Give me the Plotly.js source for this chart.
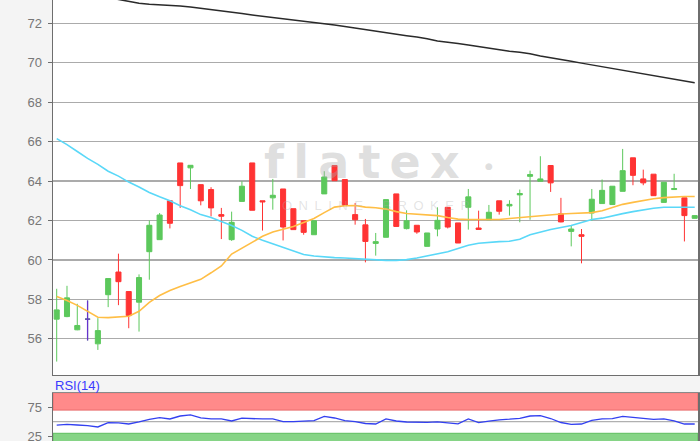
<!DOCTYPE html>
<html><head><meta charset="utf-8">
<script src="https://cdn.plot.ly/plotly-3.0.1.min.js"></script>
<style>html,body{margin:0;padding:0;background:#f4f4f4;overflow:hidden}</style>
</head><body><div id="chart" style="width:700px;height:441px"></div>
<script>
// session index (no date labels are shown in the reference)
const sessions = [0,1,2,3,4,5,6,7,8,9,10,11,12,13,14,15,16,17,18,19,20,21,22,23,24,25,26,27,28,29,30,31,32,33,34,35,36,37,38,39,40,41,42,43,44,45,46,47,48,49,50,51,52,53,54,55,56,57,58,59,60,61,62];

const openP  = [57.00,57.13,56.46,57.00,55.75,58.24,59.39,58.40,57.86,60.42,61.03,63.00,64.92,64.67,63.82,63.57,62.30,61.03,62.97,64.92,63.00,63.15,63.60,62.60,61.99,61.28,63.35,64.79,64.08,62.30,61.78,60.84,61.15,63.35,61.59,61.76,60.69,61.57,62.67,61.88,62.67,61.62,62.04,63.00,62.74,63.30,64.24,63.99,64.79,62.34,61.45,61.28,62.38,62.86,62.81,63.48,65.18,64.11,64.35,62.92,63.57,63.15,62.11];
const highP  = [58.54,58.69,57.78,57.95,57.05,59.06,60.32,58.40,59.27,62.00,62.38,63.00,64.92,64.80,63.82,63.69,62.64,62.45,63.99,64.92,63.00,64.11,63.60,62.60,61.99,61.99,64.50,64.79,64.08,62.89,62.08,61.37,63.06,63.35,62.52,61.76,61.37,62.67,62.67,61.88,63.60,62.50,62.79,63.00,63.03,63.57,64.53,65.26,64.79,63.15,61.74,61.57,63.60,64.08,63.74,65.63,65.18,64.58,64.35,63.94,64.37,63.15,62.25];
const lowP   = [54.85,57.10,56.44,55.92,55.44,57.61,57.71,56.54,56.37,59.00,61.03,61.60,62.64,63.60,62.77,62.21,61.06,60.97,62.97,62.52,61.49,62.55,60.99,61.54,61.28,61.28,63.35,64.02,62.76,61.79,59.88,60.22,61.15,61.70,61.55,61.33,60.69,61.20,61.60,60.86,61.54,61.55,62.04,62.30,62.25,61.91,62.04,63.99,63.45,61.91,60.69,59.83,61.98,62.86,62.81,63.48,63.79,63.79,63.26,62.92,63.57,60.94,62.11];
const closeP = [57.47,58.08,56.68,57.00,56.42,59.06,58.90,57.18,59.11,61.76,62.28,61.86,63.77,64.80,63.00,62.64,62.22,61.91,63.74,62.52,62.95,63.28,61.67,61.54,61.40,61.99,64.21,64.02,62.76,62.04,60.94,60.93,63.06,61.70,61.99,61.42,61.37,62.01,61.67,60.86,63.20,61.55,62.42,62.47,62.82,63.37,64.33,64.11,63.91,61.93,61.57,61.20,63.08,63.53,63.74,64.53,64.29,63.91,63.26,63.94,63.62,62.25,62.25];
const dojiIdx = [3];

const maCyan   = [66.15,65.85,65.50,65.15,64.85,64.50,64.25,63.95,63.70,63.42,63.20,63.00,62.75,62.55,62.30,62.15,61.95,61.75,61.50,61.20,61.00,60.82,60.60,60.42,60.28,60.20,60.15,60.12,60.10,60.07,60.03,60.00,59.98,59.98,60.02,60.10,60.20,60.30,60.42,60.58,60.75,60.85,60.90,60.93,60.95,61.05,61.28,61.42,61.55,61.65,61.75,61.90,62.05,62.12,62.25,62.35,62.45,62.55,62.62,62.67,62.67,62.67,62.67];
const maOrange = [58.15,57.95,57.70,57.40,57.10,57.08,57.10,57.15,57.40,57.85,58.20,58.45,58.65,58.85,59.02,59.35,59.70,60.30,60.60,60.90,61.20,61.42,61.55,61.70,61.90,62.10,62.40,62.68,62.75,62.76,62.68,62.65,62.58,62.45,62.36,62.33,62.30,62.25,62.15,62.07,62.05,62.05,62.05,62.05,62.10,62.15,62.21,62.25,62.30,62.33,62.36,62.38,62.40,62.50,62.65,62.82,62.92,63.02,63.10,63.16,63.20,63.22,63.22];
const maBlack  = [null,null,null,null,null,73.30,73.20,73.10,73.02,72.97,72.94,72.93,72.88,72.82,72.76,72.69,72.62,72.56,72.49,72.42,72.36,72.30,72.24,72.17,72.10,72.03,71.97,71.91,71.84,71.76,71.68,71.58,71.50,71.43,71.37,71.30,71.22,71.10,71.02,70.97,70.90,70.82,70.72,70.64,70.58,70.53,70.46,70.34,70.24,70.15,70.07,69.98,69.89,69.81,69.70,69.60,69.51,69.43,69.36,69.26,69.16,69.08,68.99];

const rsi14 = [44.0,45.5,44.3,43.3,40.9,48.3,48.1,46.0,49.5,54.1,56.9,54.7,59.8,61.6,56.7,54.7,54.7,51.2,56.0,54.7,54.7,54.7,50.0,50.0,50.3,51.9,59.0,56.4,52.0,50.3,46.9,46.0,54.7,51.2,49.5,49.0,49.0,49.8,48.6,46.4,54.7,48.3,50.9,53.3,54.3,55.9,59.8,60.3,55.5,48.6,45.5,46.0,52.1,54.7,55.2,59.1,57.4,55.5,54.1,54.7,51.6,46.0,46.0];

const priceTicks = [56,58,60,62,64,66,68,70,72];
const rsiTicks = [25,75];
const rsiZones = {over:[70,100], under:[0,30]};

const GREEN = '#5cc85c', RED = '#ff3333', PURPLE = '#6633cc';
const tickFont = {family:'Liberation Sans, Arial, sans-serif', size:13, color:'#777777'};

const traces = [
  {type:'candlestick', x:sessions, open:openP, high:highP, low:lowP, close:closeP,
   xaxis:'x', yaxis:'y',
   increasing:{line:{color:GREEN,width:1}, fillcolor:GREEN},
   decreasing:{line:{color:RED,width:1}, fillcolor:RED},
   whiskerwidth:0, hoverinfo:'skip'},
  {type:'candlestick', x:dojiIdx.map(i=>sessions[i]), open:dojiIdx.map(i=>openP[i]),
   high:dojiIdx.map(i=>highP[i]), low:dojiIdx.map(i=>lowP[i]), close:dojiIdx.map(i=>closeP[i]),
   xaxis:'x', yaxis:'y',
   increasing:{line:{color:PURPLE,width:1.3}, fillcolor:PURPLE},
   decreasing:{line:{color:PURPLE,width:1.3}, fillcolor:PURPLE}, hoverinfo:'skip'},
  {type:'scatter', mode:'lines', x:sessions, y:maCyan, line:{color:'#5ad8f8',width:1.6}, xaxis:'x', yaxis:'y'},
  {type:'scatter', mode:'lines', x:sessions, y:maOrange, line:{color:'#ffbe45',width:1.6}, xaxis:'x', yaxis:'y'},
  {type:'scatter', mode:'lines', x:sessions, y:maBlack, line:{color:'#2a2a2a',width:1.5}, xaxis:'x', yaxis:'y'},
  {type:'scatter', mode:'lines', x:sessions, y:rsi14, line:{color:'#3340f0',width:1.3}, xaxis:'x2', yaxis:'y2'}
];

const xr = [-0.36, 62.32];
const layout = {
  width:700, height:441,
  margin:{l:53, r:2, t:0, b:0, pad:0},
  paper_bgcolor:'#f4f4f4', plot_bgcolor:'#ffffff',
  showlegend:false,
  xaxis:{domain:[0,1], range:xr, anchor:'y', showgrid:false, showticklabels:false, ticks:'',
         zeroline:false, showline:true, linecolor:'#6e6e6e', linewidth:1.5, rangeslider:{visible:false}},
  yaxis:{domain:[0.1497,1], range:[54.17,73.18], anchor:'x', tickvals:priceTicks,
         gridcolor:'#ababab', gridwidth:1.2, zeroline:false,
         showline:true, mirror:true, linecolor:'#6e6e6e', linewidth:1.5,
         ticks:'outside', ticklen:4, tickcolor:'#6e6e6e', tickfont:tickFont, ticklabelstandoff:3,
         ticklabeloverflow:'allow'},
  xaxis2:{domain:[0,1], range:xr, anchor:'y2', showgrid:false, showticklabels:false, ticks:'',
          zeroline:false, showline:true, mirror:true, linecolor:'#8a8a8a', linewidth:1.2},
  yaxis2:{domain:[0,0.1095], range:[16.7,100], anchor:'x2', tickvals:rsiTicks,
          showgrid:false, zeroline:false, showline:true, mirror:true, linecolor:'#6e6e6e', linewidth:1.5,
          ticks:'outside', ticklen:4, tickcolor:'#6e6e6e', tickfont:tickFont, ticklabelstandoff:3,
          ticklabeloverflow:'allow'},
  shapes:[
    {type:'rect', xref:'x2 domain', yref:'y2', x0:0, x1:1, y0:rsiZones.over[0], y1:rsiZones.over[1],
     fillcolor:'#ff8a8a', line:{color:'#e86a6a', width:1}, layer:'below'},
    {type:'rect', xref:'x2 domain', yref:'y2', x0:0, x1:1, y0:rsiZones.under[0], y1:rsiZones.under[1],
     fillcolor:'#86d486', line:{color:'#5fbf5f', width:1}, layer:'below'},
    {type:'line', xref:'x2 domain', yref:'y2', x0:0, x1:1, y0:50, y1:50, line:{color:'#b0b0b0', width:1.3}, layer:'below'}
  ],
  annotations:[
    {xref:'paper', yref:'paper', x:0, y:(441-385.5)/441, xanchor:'left', yanchor:'middle', showarrow:false,
     text:'RSI(14)', font:{family:'Liberation Sans, Arial, sans-serif', size:13, color:'#3a3aff'}},
    {xref:'paper', yref:'paper', x:(262-53)/645, y:(441-162)/441, xanchor:'left', yanchor:'middle', showarrow:false,
     text:'f\u2009l\u2009a\u2009t\u2009e\u2009x', font:{family:'DejaVu Sans, sans-serif', size:46, weight:700, color:'rgba(170,170,170,0.38)'}},
    {xref:'paper', yref:'paper', x:(489-53)/645, y:(441-166)/441, xanchor:'center', yanchor:'middle', showarrow:false,
     text:'\u25CF', font:{family:'DejaVu Sans, sans-serif', size:9, color:'rgba(170,170,170,0.38)'}},
    {xref:'paper', yref:'paper', x:(376-53)/645, y:(441-205)/441, xanchor:'center', yanchor:'middle', showarrow:false,
     text:'O\u2002N\u2002L\u2002I\u2002N\u2002E\u2002\u2002\u2002B\u2002R\u2002O\u2002K\u2002E\u2002R', font:{family:'Liberation Sans, Arial, sans-serif', size:13, color:'rgba(170,170,170,0.33)'}}
  ]
};

Plotly.newPlot('chart', traces, layout, {staticPlot:true, displayModeBar:false});
</script></body></html>
